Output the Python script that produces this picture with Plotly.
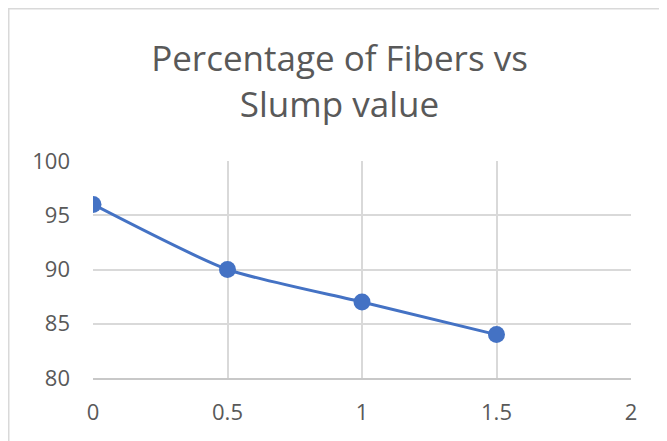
import plotly.graph_objects as go

# fibre percentage vs slump
fibres = [0, 0.5, 1, 1.5]
slump = [96, 90, 87, 84]
x_ticks = [0, 0.5, 1, 1.5, 2]
y_ticks = [80, 85, 90, 95, 100]
title_text = 'Percentage of Fibers vs<br>Slump value'

grey_text = '#595959'
grid = '#d9d9d9'

fig = go.Figure()
fig.add_trace(go.Scatter(
    x=fibres, y=slump, mode='lines+markers',
    line=dict(color='#4472C4', width=3, shape='spline', smoothing=0.6),
    marker=dict(size=17, color='#4472C4'),
    showlegend=False,
))

# outer chart border (Excel style)
fig.add_shape(type='rect', xref='paper', yref='paper',
              x0=-85 / 538, x1=2, y0=-1, y1=1 + 153 / 217,
              line=dict(color=grid, width=3), layer='below')

fig.update_layout(
    width=659, height=433,
    margin=dict(l=85, r=36, t=153, b=63),
    paper_bgcolor='white', plot_bgcolor='white',
    font=dict(family='Open Sans', color=grey_text),
    title=dict(text=title_text, x=0.503, xanchor='center',
               y=0.854, yanchor='middle', font=dict(size=35, color=grey_text)),
    xaxis=dict(range=[0, 2], tickvals=x_ticks, ticktext=[str(v) for v in x_ticks],
               showgrid=True, gridcolor=grid, gridwidth=2,
               showline=True, linecolor='#c8c8c8', linewidth=2,
               zeroline=False, ticks='', tickfont=dict(size=22, color=grey_text),
               ticklabelstandoff=14),
    yaxis=dict(range=[80, 100], tickvals=y_ticks,
               showgrid=True, gridcolor=grid, gridwidth=2,
               showline=False, zeroline=False, ticks='',
               tickfont=dict(size=22, color=grey_text), ticklabelstandoff=22),
)

fig.write_html("out.html")
